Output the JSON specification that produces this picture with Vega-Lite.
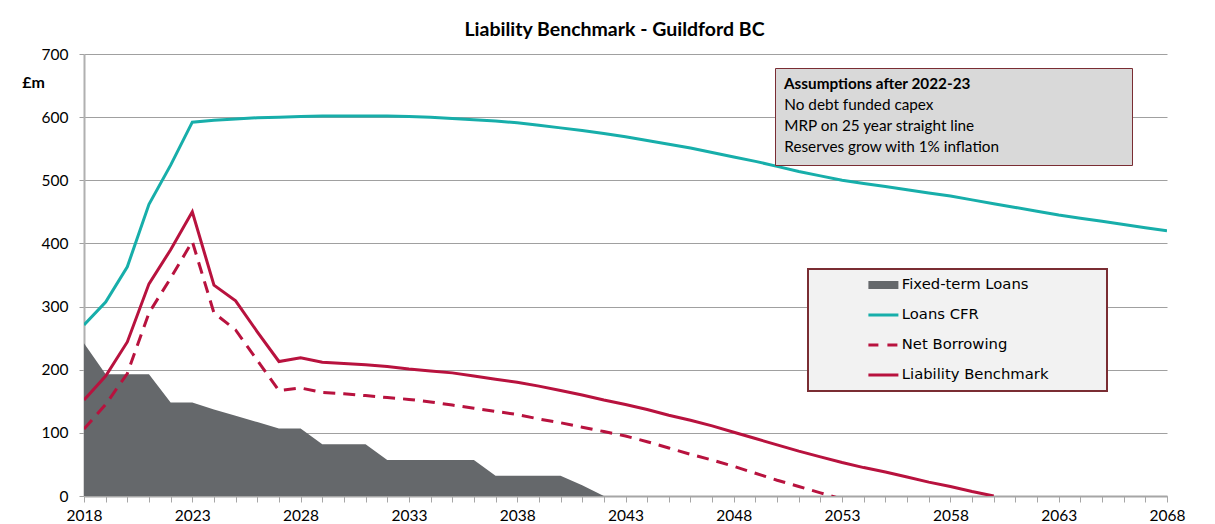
{
  "$schema": "https://vega.github.io/schema/vega-lite/v6.json",
  "width": 1083,
  "height": 442,
  "autosize": {"type": "none"},
  "padding": {"left": 84, "top": 54, "right": 48, "bottom": 28},
  "background": "white",
  "title": {"text": "Liability Benchmark - Guildford BC", "font": "Lato", "fontSize": 19.5, "fontWeight": "bold", "color": "#000000", "offset": 7, "dx": -11, "anchor": "middle"},
  "config": {"view": {"stroke": null}},
  "datasets": {
    "main": [
      {"year": 2018, "Fixed-term Loans": 242, "Loans CFR": 271, "Net Borrowing": 106, "Liability Benchmark": 152},
      {"year": 2019, "Fixed-term Loans": 193, "Loans CFR": 307, "Net Borrowing": 145, "Liability Benchmark": 190},
      {"year": 2020, "Fixed-term Loans": 193, "Loans CFR": 363, "Net Borrowing": 194, "Liability Benchmark": 244},
      {"year": 2021, "Fixed-term Loans": 193, "Loans CFR": 462, "Net Borrowing": 290, "Liability Benchmark": 336},
      {"year": 2022, "Fixed-term Loans": 148, "Loans CFR": 524, "Net Borrowing": 345, "Liability Benchmark": 390},
      {"year": 2023, "Fixed-term Loans": 148, "Loans CFR": 592, "Net Borrowing": 403, "Liability Benchmark": 450},
      {"year": 2024, "Fixed-term Loans": 137, "Loans CFR": 595, "Net Borrowing": 290, "Liability Benchmark": 334},
      {"year": 2025, "Fixed-term Loans": 127, "Loans CFR": 597, "Net Borrowing": 263, "Liability Benchmark": 309},
      {"year": 2026, "Fixed-term Loans": 117, "Loans CFR": 599, "Net Borrowing": 215, "Liability Benchmark": 260},
      {"year": 2027, "Fixed-term Loans": 107, "Loans CFR": 600, "Net Borrowing": 167, "Liability Benchmark": 213},
      {"year": 2028, "Fixed-term Loans": 107, "Loans CFR": 601, "Net Borrowing": 171, "Liability Benchmark": 219},
      {"year": 2029, "Fixed-term Loans": 82, "Loans CFR": 602, "Net Borrowing": 164, "Liability Benchmark": 212},
      {"year": 2030, "Fixed-term Loans": 82, "Loans CFR": 602, "Net Borrowing": 162, "Liability Benchmark": 210},
      {"year": 2031, "Fixed-term Loans": 82, "Loans CFR": 602, "Net Borrowing": 159, "Liability Benchmark": 208},
      {"year": 2032, "Fixed-term Loans": 57, "Loans CFR": 602, "Net Borrowing": 156, "Liability Benchmark": 205},
      {"year": 2033, "Fixed-term Loans": 57, "Loans CFR": 601, "Net Borrowing": 153, "Liability Benchmark": 201},
      {"year": 2034, "Fixed-term Loans": 57, "Loans CFR": 600, "Net Borrowing": 149, "Liability Benchmark": 198},
      {"year": 2035, "Fixed-term Loans": 57, "Loans CFR": 598, "Net Borrowing": 144, "Liability Benchmark": 195},
      {"year": 2036, "Fixed-term Loans": 57, "Loans CFR": 596, "Net Borrowing": 139, "Liability Benchmark": 190},
      {"year": 2037, "Fixed-term Loans": 32, "Loans CFR": 594, "Net Borrowing": 134, "Liability Benchmark": 185},
      {"year": 2038, "Fixed-term Loans": 32, "Loans CFR": 591, "Net Borrowing": 129, "Liability Benchmark": 180},
      {"year": 2039, "Fixed-term Loans": 32, "Loans CFR": 587, "Net Borrowing": 122, "Liability Benchmark": 174},
      {"year": 2040, "Fixed-term Loans": 32, "Loans CFR": 583, "Net Borrowing": 116, "Liability Benchmark": 167},
      {"year": 2041, "Fixed-term Loans": 17, "Loans CFR": 579, "Net Borrowing": 109, "Liability Benchmark": 160},
      {"year": 2042, "Fixed-term Loans": 0, "Loans CFR": 574, "Net Borrowing": 102, "Liability Benchmark": 152},
      {"year": 2043, "Loans CFR": 569, "Net Borrowing": 95, "Liability Benchmark": 145},
      {"year": 2044, "Loans CFR": 563, "Net Borrowing": 86, "Liability Benchmark": 137},
      {"year": 2045, "Loans CFR": 557, "Net Borrowing": 76, "Liability Benchmark": 128},
      {"year": 2046, "Loans CFR": 551, "Net Borrowing": 66, "Liability Benchmark": 120},
      {"year": 2047, "Loans CFR": 544, "Net Borrowing": 57, "Liability Benchmark": 111},
      {"year": 2048, "Loans CFR": 537, "Net Borrowing": 47, "Liability Benchmark": 101},
      {"year": 2049, "Loans CFR": 530, "Net Borrowing": 36, "Liability Benchmark": 91},
      {"year": 2050, "Loans CFR": 522, "Net Borrowing": 25, "Liability Benchmark": 81},
      {"year": 2051, "Loans CFR": 514, "Net Borrowing": 15, "Liability Benchmark": 71},
      {"year": 2052, "Loans CFR": 507, "Net Borrowing": 5, "Liability Benchmark": 62},
      {"year": 2053, "Loans CFR": 500, "Net Borrowing": -5, "Liability Benchmark": 53},
      {"year": 2054, "Loans CFR": 495, "Liability Benchmark": 45},
      {"year": 2055, "Loans CFR": 490, "Liability Benchmark": 38},
      {"year": 2056, "Loans CFR": 485, "Liability Benchmark": 30},
      {"year": 2057, "Loans CFR": 480, "Liability Benchmark": 22},
      {"year": 2058, "Loans CFR": 475, "Liability Benchmark": 15},
      {"year": 2059, "Loans CFR": 469, "Liability Benchmark": 7},
      {"year": 2060, "Loans CFR": 463, "Liability Benchmark": 0},
      {"year": 2061, "Loans CFR": 457},
      {"year": 2062, "Loans CFR": 451},
      {"year": 2063, "Loans CFR": 445},
      {"year": 2064, "Loans CFR": 440},
      {"year": 2065, "Loans CFR": 435},
      {"year": 2066, "Loans CFR": 430},
      {"year": 2067, "Loans CFR": 425},
      {"year": 2068, "Loans CFR": 420}
    ],
    "notes": [
      {"note": "No debt funded capex"},
      {"note": "MRP on 25 year straight line"},
      {"note": "Reserves grow with 1% inflation"}
    ]
  },
  "layer": [
    {
      "data": {"name": "main"},
      "transform": [
        {"fold": ["Fixed-term Loans"], "as": ["series", "value"]},
        {"filter": "isValid(datum.value)"}
      ],
      "mark": {"type": "area", "clip": true},
      "encoding": {
        "x": {"field": "year", "type": "quantitative", "scale": {"domain": [2018, 2068], "nice": false, "zero": false},
          "axis": {"tickCount": 50, "labelExpr": "(datum.value - 2018) % 5 === 0 ? format(datum.value, 'd') : ''", "labelOverlap": false, "labelFlush": false, "grid": false, "title": null, "domainColor": "#a6a6a6", "domainWidth": 2, "tickColor": "#a6a6a6", "tickSize": 6, "tickWidth": 1, "labelFont": "Lato", "labelFontSize": 15.5, "labelColor": "#000000", "labelPadding": 6}},
        "y": {"field": "value", "type": "quantitative", "scale": {"domain": [0, 700], "nice": false},
          "axis": {"values": [0, 100, 200, 300, 400, 500, 600, 700], "grid": true, "gridColor": "#a0a0a0", "gridWidth": 1, "domainColor": "#b0b0b0", "domainWidth": 2, "tickColor": "#a0a0a0", "tickSize": 5, "labelPadding": 11, "labelFont": "Lato", "labelFontSize": 15.5, "labelColor": "#000000", "title": "£m", "titleAngle": 0, "titleX": -51, "titleY": 28, "titleAlign": "center", "titleBaseline": "middle", "titleFont": "Lato", "titleFontSize": 16, "titleFontWeight": "bold", "titleColor": "#000000"}},
        "color": {"field": "series", "type": "nominal",
          "scale": {"domain": ["Fixed-term Loans", "Loans CFR", "Net Borrowing", "Liability Benchmark"], "range": ["#65686b", "#17aeaa", "#b8123e", "#b8123e"]},
          "legend": {"title": " ", "titleOrient": "right", "titlePadding": 58, "orient": "none", "legendX": 724, "legendY": 215, "fillColor": "#f2f2f2", "strokeColor": "#7a2d33", "padding": 1, "symbolType": "stroke", "symbolSize": 900, "symbolStrokeWidth": 3, "symbolOffset": 67, "labelFont": "DejaVu Sans", "labelFontSize": 14.8, "labelOffset": 11, "labelColor": "#000000", "rowPadding": 0, "clipHeight": 30, "labelLimit": 500,
            "encode": {
              "legend": {"update": {"strokeWidth": {"value": 2}}},
              "symbols": {"update": {"strokeDash": {"signal": "datum.label === 'Net Borrowing' ? [10, 9] : [1, 0]"}, "strokeWidth": {"signal": "datum.label === 'Fixed-term Loans' ? 8 : 3"}}}
            }}}
      }
    },
    {
      "data": {"name": "main"},
      "transform": [
        {"fold": ["Loans CFR", "Liability Benchmark"], "as": ["series", "value"]},
        {"filter": "isValid(datum.value)"}
      ],
      "mark": {"type": "line", "strokeWidth": 3, "clip": true},
      "encoding": {
        "x": {"field": "year", "type": "quantitative"},
        "y": {"field": "value", "type": "quantitative"},
        "color": {"field": "series", "type": "nominal"}
      }
    },
    {
      "data": {"name": "main"},
      "transform": [
        {"fold": ["Net Borrowing"], "as": ["series", "value"]},
        {"filter": "isValid(datum.value)"}
      ],
      "mark": {"type": "line", "strokeWidth": 3, "strokeDash": [12, 8], "clip": true},
      "encoding": {
        "x": {"field": "year", "type": "quantitative"},
        "y": {"field": "value", "type": "quantitative"},
        "color": {"field": "series", "type": "nominal"}
      }
    },
    {
      "data": {"name": "notes"},
      "mark": {"type": "point", "opacity": 0},
      "encoding": {
        "shape": {"field": "note", "type": "nominal",
          "scale": {"domain": ["No debt funded capex", "MRP on 25 year straight line", "Reserves grow with 1% inflation"]},
          "legend": {"title": "Assumptions after 2022-23", "titleLimit": 500, "orient": "none", "legendX": 691, "legendY": 14, "fillColor": "#d9d9d9", "strokeColor": "#7a2d33", "padding": 9, "titleFont": "Lato", "titleFontSize": 15.3, "titleFontWeight": "bold", "titleColor": "#000000", "labelFont": "Lato", "labelFontSize": 15.3, "labelColor": "#000000", "symbolSize": 4, "symbolOffset": 330, "symbolStrokeWidth": 0, "labelOffset": -345, "rowPadding": 5, "titlePadding": 5, "labelLimit": 500,
            "encode": {"legend": {"update": {"strokeWidth": {"value": 2}}},
              "symbols": {"update": {"fill": {"value": "transparent"}, "stroke": {"value": "transparent"}}}}}
        }
      }
    }
  ]
}
